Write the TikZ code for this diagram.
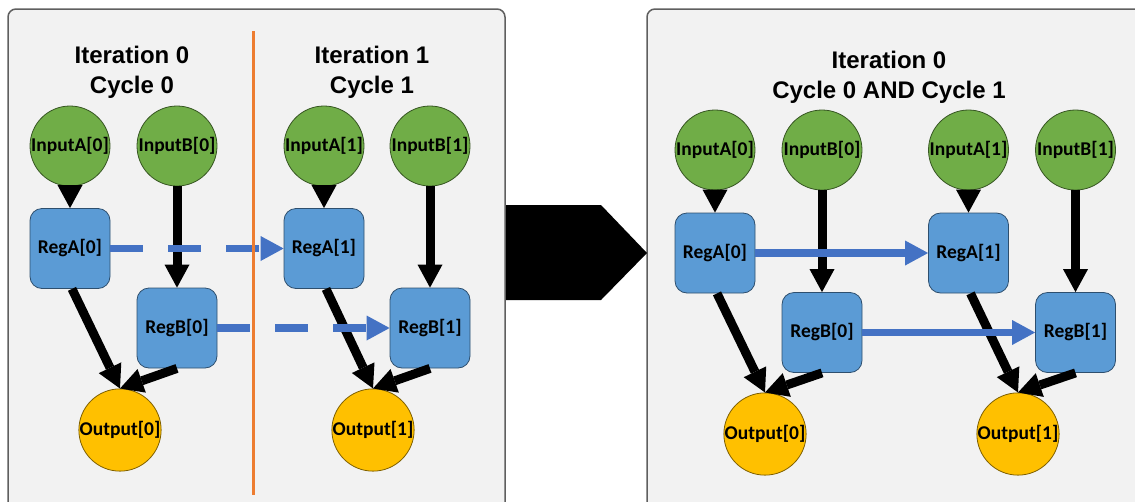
\documentclass[tikz,border=0pt]{standalone}
\usepackage{fontspec}
\setmainfont{Carlito}
\newfontfamily\headfont{Liberation Sans}
\usetikzlibrary{arrows.meta,shapes.geometric}

\definecolor{panelfill}{HTML}{F2F2F2}
\definecolor{panelline}{HTML}{5F5F5F}
\definecolor{infill}{HTML}{70AD47}
\definecolor{inline}{HTML}{375623}
\definecolor{regfill}{HTML}{5B9BD5}
\definecolor{regline}{HTML}{2E4F6E}
\definecolor{outfill}{HTML}{FFC000}
\definecolor{outline}{HTML}{7F6000}
\definecolor{linkblue}{HTML}{4472C4}
\definecolor{divider}{HTML}{ED7D31}

\tikzset{
  panel/.style={fill=panelfill, draw=panelline, line width=1.5pt, rounded corners=8pt},
  heading/.style={font=\headfont\bfseries\fontsize{24}{30}\selectfont, align=center, text=black},
  labelfont/.style={font=\bfseries\fontsize{19.5}{21}\selectfont},
  inputnode/.style={circle, minimum size=80pt, inner sep=0pt, fill=infill, draw=inline, line width=0.8pt, labelfont},
  regnode/.style={rectangle, rounded corners=12pt, minimum width=80pt, minimum height=80pt, inner sep=0pt,
    fill=regfill, draw=regline, line width=0.8pt, labelfont},
  outnode/.style={circle, minimum size=80pt, inner sep=0pt, fill=outfill, draw=outline, line width=0.8pt, labelfont},
  flow/.style={draw=black, line width=9pt, -{Triangle[length=23pt,width=25pt,line width=0pt]}},
  carry/.style={draw=linkblue, line width=7.5pt, -{Triangle[length=23pt,width=25pt,line width=0pt]}},
  carrydashed/.style={carry, dash pattern=on 33pt off 25pt},
}

\begin{document}
\begin{tikzpicture}[x=1pt, y=-1pt]
\useasboundingbox (0,0) rectangle (1135,501);
\begin{scope}
\clip (0,0) rectangle (1135,501);

% panels
\draw[panel] (8,9) rectangle (505,520);
\draw[panel] (647,9) rectangle (1160,520);

% transition arrow between the panels
\fill[black] (506,205) -- (601,205) -- (647,253) -- (601,300) -- (506,300) -- cycle;

% ---- left panel: two separate cycles ----
\node[heading] (t0) at (132,72.5) {Iteration 0\\Cycle 0};
\node[heading] (t1) at (372,72.5) {Iteration 1\\Cycle 1};

\node[inputnode] (ia0) at (70,146) {InputA[0]};
\node[inputnode] (ib0) at (177,146) {InputB[0]};
\node[inputnode] (ia1) at (324,146) {InputA[1]};
\node[inputnode] (ib1) at (430,146) {InputB[1]};

\node[regnode] (ra0) at (70,248.5) {RegA[0]};
\node[regnode] (rb0) at (177,328) {RegB[0]};
\node[regnode] (ra1) at (324,248.5) {RegA[1]};
\node[regnode] (rb1) at (430,328) {RegB[1]};

\node[outnode] (o0) at (120,430) {Output[0]};
\node[outnode] (o1) at (373,430) {Output[1]};

\draw[flow] (ia0.south) -- (ra0.north);
\draw[flow] (ib0.south) -- (rb0.north);
\draw[flow] (ia1.south) -- (ra1.north);
\draw[flow] (ib1.south) -- (rb1.north);
\draw[flow] ([xshift=2pt]ra0.south) -- (o0.north);
\draw[flow] (rb0.south) -- (o0.north);
\draw[flow] ([xshift=2pt]ra1.south) -- (o1.north);
\draw[flow] (rb1.south) -- (o1.north);

\draw[carrydashed] (ra0.east) -- (ra1.west);
\draw[carrydashed] (rb0.east) -- (rb1.west);

\coordinate (divtop) at (253,31);
\coordinate (divbot) at (253,495);
\draw[divider, line width=3pt] (divtop) -- (divbot);

% ---- right panel: both cycles merged ----
\node[heading] (t2) at (889,77) {Iteration 0\\Cycle 0 AND Cycle 1};

\node[inputnode] (pia0) at (715,150) {InputA[0]};
\node[inputnode] (pib0) at (822,150) {InputB[0]};
\node[inputnode] (pia1) at (968.5,150) {InputA[1]};
\node[inputnode] (pib1) at (1075.5,150) {InputB[1]};

\node[regnode] (pra0) at (715,253) {RegA[0]};
\node[regnode] (prb0) at (822,332.5) {RegB[0]};
\node[regnode] (pra1) at (968.5,253) {RegA[1]};
\node[regnode] (prb1) at (1075.5,332.5) {RegB[1]};

\node[outnode] (po0) at (765,434) {Output[0]};
\node[outnode] (po1) at (1018,434) {Output[1]};

\draw[flow] (pia0.south) -- (pra0.north);
\draw[flow] (pib0.south) -- (prb0.north);
\draw[flow] (pia1.south) -- (pra1.north);
\draw[flow] (pib1.south) -- (prb1.north);
\draw[flow] ([xshift=2pt]pra0.south) -- (po0.north);
\draw[flow] (prb0.south) -- (po0.north);
\draw[flow] ([xshift=2pt]pra1.south) -- (po1.north);
\draw[flow] (prb1.south) -- (po1.north);

\draw[carry] (pra0.east) -- (pra1.west);
\draw[carry] (prb0.east) -- (prb1.west);
\end{scope}
\end{tikzpicture}
\end{document}
